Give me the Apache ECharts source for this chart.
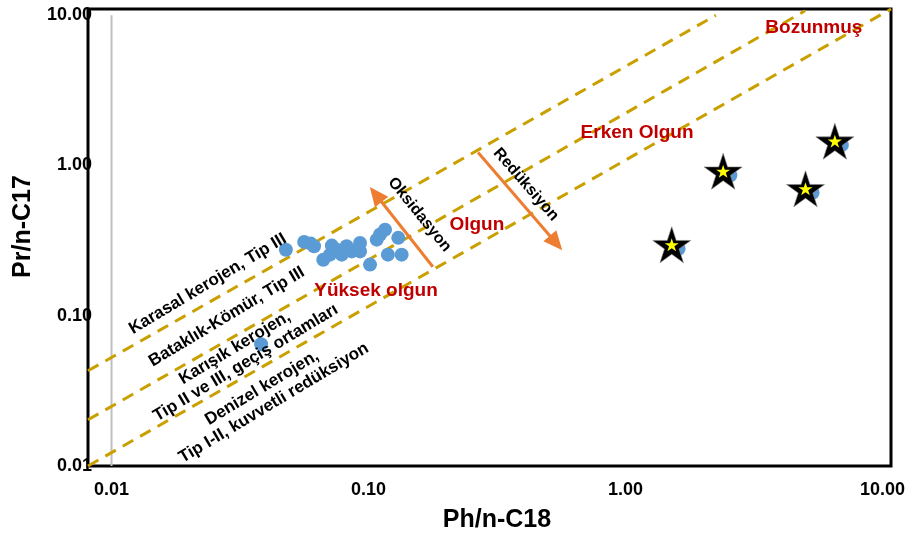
<!DOCTYPE html>
<html>
<head>
<meta charset="utf-8">
<script src="https://cdn.jsdelivr.net/npm/echarts@6/dist/echarts.min.js"></script>
<style>
html,body{margin:0;padding:0;background:#fff;}
#chart{width:913px;height:539px;}
</style>
</head>
<body>
<div id="chart"></div>
<script>
// ---------- data ----------
const xTicks = [0.01, 0.1, 1, 10];
const yTicks = [0.01, 0.1, 1, 10];

// blue sample points (Ph/n-C18, Pr/n-C17)
const samplePh = [0.0477, 0.0562, 0.0596, 0.0614, 0.0720, 0.0667, 0.0751, 0.0787, 0.0822, 0.0861, 0.0927, 0.0927, 0.1014, 0.1077, 0.111, 0.116, 0.119, 0.1306, 0.1346, 0.0708, 0.0382, 1.61, 2.56, 5.35, 6.95];
const samplePr = [0.275, 0.310, 0.302, 0.290, 0.293, 0.236, 0.275, 0.255, 0.290, 0.268, 0.305, 0.268, 0.219, 0.321, 0.347, 0.374, 0.255, 0.330, 0.255, 0.255, 0.0646, 0.279, 0.861, 0.658, 1.365];

// star samples
const starPh = [1.514, 2.40, 5.02, 6.53];
const starPr = [0.297, 0.916, 0.700, 1.452];

// dashed boundary lines
const lineKarasal = [[0.0081, 0.043], [2.25, 10]];
const lineBataklik = [[0.0081, 0.0203], [5.0, 10.7]];
const lineDenizel = [[0.0081, 0.01], [10.8, 11]];
const lineRef = [[0.01, 0.01], [0.01, 10]];

// arrows
const arrowOks = [[0.178, 0.212], [0.1067, 0.641]];
const arrowRed = [[0.267, 1.22], [0.537, 0.305]];

// text labels
const redLabels = ['Bozunmuş', 'Erken Olgun', 'Olgun', 'Yüksek olgun'];
const redLabelPh = [5.41, 1.11, 0.264, 0.107];
const redLabelPr = [8.19, 1.66, 0.404, 0.147];

const arrowLabels = ['Oksidasyon', 'Redüksiyon'];
const arrowLabelPh = [0.158, 0.410];
const arrowLabelPr = [0.471, 0.747];
const arrowLabelRot = [-51, -49];

const zoneLabels = ['Karasal kerojen, Tip III', 'Bataklık-Kömür, Tip III', 'Karışık kerojen,', 'Tip II ve III, geçiş ortamları', 'Denizel kerojen,', 'Tip I-II, kuvvetli redüksiyon'];
const zoneLabelPh = [0.0237, 0.0281, 0.0302, 0.0333, 0.0385, 0.0428];
const zoneLabelPr = [0.163, 0.0985, 0.0612, 0.0486, 0.0331, 0.0263];

// ---------- chart ----------
const FONT = '"Liberation Sans", Arial, Helvetica, sans-serif';
const GOLD = '#C9A000';
const ORANGE = '#ED7D31';
const RED = '#C00000';
const STAR = 'path://M50,0L61.2,34.5L97.6,34.5L68.2,55.9L79.4,90.5L50,69.1L20.6,90.5L31.8,55.9L2.4,34.5L38.8,34.5Z';

function powLabel(v) {
  const l = Math.log10(v);
  if (Math.abs(l - Math.round(l)) > 1e-6) return '';
  return Number(v).toFixed(2);
}

function dashed(data) {
  return {
    type: 'line', data: data, showSymbol: false, symbol: 'none', silent: true,
    lineStyle: { color: GOLD, width: 3, type: [12, 8], opacity: 1 }, z: 2
  };
}

function textSeries(texts, xs, ys, rots, color, size) {
  return {
    type: 'scatter', symbolSize: 0, silent: true, z: 10,
    itemStyle: { opacity: 1 },
    data: texts.map((t, i) => ({
      value: [xs[i], ys[i]],
      label: {
        show: true, formatter: t, position: 'inside',
        rotate: rots ? rots[i] : 0, opacity: 1,
        color: color, fontFamily: FONT, fontWeight: 'bold', fontSize: size,
        align: 'center', verticalAlign: 'middle'
      }
    }))
  };
}

const chart = echarts.init(document.getElementById('chart'), null, { renderer: 'canvas' });
chart.setOption({
  animation: false,
  backgroundColor: '#fff',
  grid: { left: 88, top: 9, width: 803, height: 457, show: true, borderColor: '#000', borderWidth: 3, backgroundColor: 'transparent' },
  xAxis: {
    type: 'log', logBase: 10, min: 0.0081, max: 10.8,
    axisLine: { show: false }, axisTick: { show: false }, splitLine: { show: false },
    axisLabel: { customValues: xTicks, formatter: powLabel, color: '#000', fontFamily: FONT, fontWeight: 'bold', fontSize: 18, margin: 15 },
    name: 'Ph/n-C18', nameLocation: 'middle', nameGap: 42,
    nameTextStyle: { color: '#000', fontFamily: FONT, fontWeight: 'bold', fontSize: 25, padding: [0, 0, 0, 15] }
  },
  yAxis: {
    type: 'log', logBase: 10, min: 0.01, max: 11,
    axisLine: { show: false }, axisTick: { show: false }, splitLine: { show: false },
    axisLabel: { customValues: yTicks, formatter: powLabel, color: '#000', fontFamily: FONT, fontWeight: 'bold', fontSize: 18, margin: -4 },
    name: 'Pr/n-C17', nameLocation: 'middle', nameGap: 50, nameRotate: 90,
    nameTextStyle: { color: '#000', fontFamily: FONT, fontWeight: 'bold', fontSize: 25, padding: [0, 0, 0, 22] }
  },
  series: [
    dashed(lineKarasal),
    dashed(lineBataklik),
    dashed(lineDenizel),
    {
      type: 'line', data: lineRef, showSymbol: false, symbol: 'none', silent: true,
      lineStyle: { color: '#BFBFBF', width: 2 }, z: 1,
      markLine: {
        silent: true, symbol: ['none', 'triangle'], symbolSize: [17, 19],
        label: { show: false },
        lineStyle: { color: ORANGE, width: 3, type: 'solid', opacity: 1 },
        itemStyle: { color: ORANGE, opacity: 1 },
        emphasis: { disabled: true },
        data: [
          [{ coord: arrowOks[0] }, { coord: arrowOks[1] }],
          [{ coord: arrowRed[0] }, { coord: arrowRed[1] }]
        ]
      }
    },
    {
      type: 'scatter', silent: true, z: 4,
      symbol: 'circle', symbolSize: 14,
      itemStyle: { color: '#5B9BD5', opacity: 1 },
      data: samplePh.map((x, i) => [x, samplePr[i]])
    },
    {
      type: 'scatter', silent: true, z: 5,
      symbol: STAR, symbolSize: [38, 36],
      itemStyle: { color: '#000', borderColor: '#888', borderWidth: 0.6, opacity: 1 },
      data: starPh.map((x, i) => [x, starPr[i]])
    },
    {
      type: 'scatter', silent: true, z: 6,
      symbol: STAR, symbolSize: [14, 13],
      itemStyle: { color: '#FFFF00', opacity: 1 },
      data: starPh.map((x, i) => [x, starPr[i]])
    },
    textSeries(redLabels, redLabelPh, redLabelPr, null, RED, 19),
    textSeries(arrowLabels, arrowLabelPh, arrowLabelPr, arrowLabelRot, '#000', 16),
    textSeries(zoneLabels, zoneLabelPh, zoneLabelPr, [31, 31, 31, 31, 31, 31], '#000', 17)
  ]
});
</script>
</body>
</html>
